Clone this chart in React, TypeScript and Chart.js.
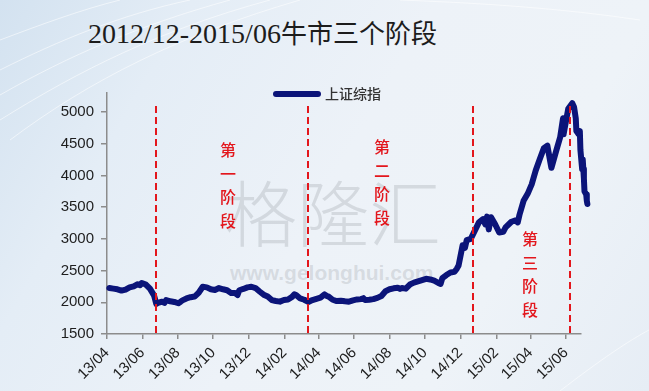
import { useEffect, useRef } from 'react';
import { Chart, registerables } from 'chart.js';

Chart.register(...registerables);

const titleText = '2012/12-2015/06牛市三个阶段';
const seriesName = '上证综指';

const tradeDates = [
  '2013-04-05','2013-04-12','2013-04-19','2013-04-26','2013-05-03','2013-05-10','2013-05-17','2013-05-24','2013-05-28','2013-05-31',
  '2013-06-07','2013-06-14','2013-06-21','2013-06-25','2013-06-28','2013-07-05','2013-07-09','2013-07-12','2013-07-19','2013-07-26',
  '2013-08-02','2013-08-06','2013-08-09','2013-08-16','2013-08-23','2013-08-30','2013-09-06','2013-09-13','2013-09-20','2013-09-27',
  '2013-10-04','2013-10-11','2013-10-18','2013-10-25','2013-11-01','2013-11-08','2013-11-12','2013-11-15','2013-11-22','2013-11-29',
  '2013-12-06','2013-12-13','2013-12-20','2013-12-27','2014-01-03','2014-01-10','2014-01-17','2014-01-24','2014-01-31',
  '2014-02-07','2014-02-14','2014-02-18','2014-02-21','2014-02-28','2014-03-07','2014-03-14','2014-03-21','2014-03-28','2014-04-04',
  '2014-04-11','2014-04-15','2014-04-18','2014-04-25','2014-05-02','2014-05-09','2014-05-16','2014-05-23','2014-05-30','2014-06-06',
  '2014-06-13','2014-06-17','2014-06-20','2014-06-27','2014-07-04','2014-07-11','2014-07-18','2014-07-25','2014-08-01','2014-08-08',
  '2014-08-15','2014-08-19','2014-08-22','2014-08-29','2014-09-05','2014-09-12','2014-09-19','2014-09-26','2014-10-03','2014-10-10',
  '2014-10-17','2014-10-24','2014-10-28','2014-10-31','2014-11-07','2014-11-14','2014-11-21','2014-11-25','2014-11-28','2014-12-05','2014-12-09',
  '2014-12-12','2014-12-19','2014-12-26','2015-01-02','2015-01-09','2015-01-13','2015-01-16','2015-01-19','2015-01-23','2015-01-30',
  '2015-02-06','2015-02-13','2015-02-17','2015-02-27','2015-03-06','2015-03-10','2015-03-13','2015-03-20','2015-03-27','2015-04-03',
  '2015-04-10','2015-04-17','2015-04-24','2015-04-30','2015-05-07','2015-05-15','2015-05-22','2015-05-27','2015-05-28',
  '2015-06-01','2015-06-05','2015-06-12','2015-06-15','2015-06-18','2015-06-19','2015-06-23','2015-06-25','2015-06-26',
  '2015-06-29','2015-06-30','2015-07-01','2015-07-02','2015-07-03','2015-07-06','2015-07-07','2015-07-08',
];

const closes = [
  2225, 2215, 2205, 2185, 2200, 2235, 2250, 2285, 2270, 2305,
  2280, 2215, 2110, 1975, 1990, 2010, 1990, 2035, 2015, 2005,
  1985, 2010, 2030, 2060, 2080, 2090, 2150, 2245, 2235, 2205,
  2195, 2225, 2205, 2190, 2145, 2145, 2115, 2190, 2210, 2235,
  2245, 2225, 2170, 2120, 2090, 2035, 2020, 2010, 2035,
  2045, 2085, 2125, 2115, 2060, 2040, 2005, 2035, 2055, 2075,
  2125, 2100, 2090, 2040, 2020, 2025, 2015, 2010, 2030, 2045,
  2050, 2065, 2035, 2040, 2050, 2070, 2100, 2175, 2205, 2220,
  2230, 2210, 2225, 2215, 2280, 2310, 2330, 2350, 2370, 2360,
  2340, 2305, 2290, 2380, 2430, 2470, 2480, 2530, 2580, 2900, 2860,
  2980, 3000, 3130, 3260, 3310, 3230, 3350, 3150, 3340, 3230,
  3100, 3110, 3180, 3270, 3290, 3260, 3380, 3600, 3710, 3860,
  4080, 4260, 4430, 4470, 4120, 4380, 4600, 4900, 4650,
  4850, 5050, 5140, 5080, 4900, 4700, 4650, 4700, 4400,
  4100, 4250, 4100, 3950, 3750, 3700, 3600, 3550,
];

const tickDates = [
  '2013-04-01','2013-06-01','2013-08-01','2013-10-01','2013-12-01','2014-02-01','2014-04-01',
  '2014-06-01','2014-08-01','2014-10-01','2014-12-01','2015-02-01','2015-04-01','2015-06-01',
];
const tickLabels = ['13/04','13/06','13/08','13/10','13/12','14/02','14/04','14/06','14/08','14/10','14/12','15/02','15/04','15/06'];
const yTicks = [1500, 2000, 2500, 3000, 3500, 4000, 4500, 5000];
const yMin = 1500;
const yMax = 5300;
const axisStart = '2013-04-01';
const axisEnd = '2015-06-27';

const phaseDates = ['2013-06-25', '2014-03-13', '2014-12-22', '2015-06-08'];
const phaseLabels = ['第一阶段', '第二阶段', '第三阶段'];

function dayIndex(s: string): number {
  const [y, m, d] = s.split('-').map(Number);
  const [y0, m0, d0] = axisStart.split('-').map(Number);
  return (Date.UTC(y, m - 1, d) - Date.UTC(y0, m0 - 1, d0)) / 86400000;
}

const LINE_COLOR = '#0b1479';
const AXIS_COLOR = '#8c8c8c';

const overlayPlugin = {
  id: 'overlay',
  afterDatasetsDraw(chart: any) {
    const { ctx, scales } = chart;
    const x = scales.x;
    ctx.save();
    // phase boundary lines
    ctx.strokeStyle = '#e3161c';
    ctx.lineWidth = 2;
    ctx.setLineDash([7, 4]);
    phaseDates.forEach((d) => {
      const px = Math.round(x.getPixelForValue(dayIndex(d)));
      ctx.beginPath();
      ctx.moveTo(px, 106);
      ctx.lineTo(px, 337);
      ctx.stroke();
    });
    ctx.setLineDash([]);

    // phase labels (vertical)
    const labelPos = [
      { x: 228, y: 150 },
      { x: 382, y: 147 },
      { x: 530, y: 239 },
    ];
    ctx.fillStyle = '#e3161c';
    ctx.font = '500 16px "Noto Sans CJK SC", sans-serif';
    ctx.textAlign = 'center';
    ctx.textBaseline = 'middle';
    phaseLabels.forEach((lab, i) => {
      Array.from(lab).forEach((ch, j) => {
        ctx.fillText(ch, labelPos[i].x, labelPos[i].y + j * 23.5);
      });
    });

    // legend
    ctx.strokeStyle = LINE_COLOR;
    ctx.lineWidth = 6;
    ctx.lineCap = 'round';
    ctx.beginPath();
    ctx.moveTo(276, 94);
    ctx.lineTo(318, 94);
    ctx.stroke();
    ctx.fillStyle = '#333';
    ctx.font = '500 14px "Noto Sans CJK SC", sans-serif';
    ctx.textAlign = 'left';
    ctx.fillText(seriesName, 325, 94);
    ctx.restore();
  },
};

export default function App() {
  const canvasRef = useRef<HTMLCanvasElement | null>(null);

  useEffect(() => {
    if (!canvasRef.current) return;
    const points = tradeDates.map((d, i) => ({ x: dayIndex(d), y: closes[i] }));
    const chart = new Chart(canvasRef.current, {
      type: 'line',
      data: {
        datasets: [
          {
            label: seriesName,
            data: points,
            borderColor: LINE_COLOR,
            borderWidth: 6,
            pointRadius: 0,
            tension: 0,
            borderJoinStyle: 'round',
            borderCapStyle: 'round',
            clip: false,
          } as any,
        ],
      },
      options: {
        animation: false,
        responsive: false,
        devicePixelRatio: 1,
        layout: { padding: { left: 0, top: 93, right: 68, bottom: 0 } },
        plugins: {
          legend: { display: false },
          tooltip: { enabled: false },
          title: { display: false },
        },
        scales: {
          x: {
            type: 'linear',
            bounds: 'data',
            afterDataLimits: (scale: any) => {
              scale.min = 0;
              scale.max = dayIndex(axisEnd);
            },
            afterBuildTicks: (scale: any) => {
              scale.min = 0;
              scale.max = dayIndex(axisEnd);
              scale.ticks = tickDates.map((d) => ({ value: dayIndex(d) }));
            },
            afterFit: (scale: any) => {
              scale.height = 57;
            },
            grid: { display: true, drawOnChartArea: false, drawTicks: true, tickLength: 5, color: AXIS_COLOR, lineWidth: 1.5 },
            border: { display: true, color: AXIS_COLOR, width: 1.5 },
            ticks: {
              autoSkip: false,
              maxRotation: 45,
              minRotation: 45,
              padding: 5,
              color: '#1e1e1e',
              font: { family: '"Liberation Sans", Arial, sans-serif', size: 15 },
              callback: (_v: any, i: number) => tickLabels[i],
            },
          } as any,
          y: {
            type: 'linear',
            min: yMin,
            max: yMax,
            afterBuildTicks: (scale: any) => {
              scale.ticks = yTicks.map((v) => ({ value: v }));
            },
            afterFit: (scale: any) => {
              scale.width = 107;
            },
            grid: { display: true, drawOnChartArea: false, drawTicks: true, tickLength: 6, color: AXIS_COLOR, lineWidth: 1.5 },
            border: { display: true, color: AXIS_COLOR, width: 1.5 },
            ticks: {
              padding: 7,
              color: '#1e1e1e',
              font: { family: '"Liberation Sans", Arial, sans-serif', size: 15 },
              callback: (v: any) => String(v),
            },
          },
        },
      },
      plugins: [overlayPlugin],
    });
    return () => chart.destroy();
  }, []);

  const latin = titleText.slice(0, 15);
  const cjk = titleText.slice(15);

  return (
    <div
      style={{
        position: 'absolute',
        left: 0,
        top: 0,
        width: 649,
        height: 391,
        overflow: 'hidden',
        background: 'linear-gradient(120deg, #d3e2f0 0%, #e4edf6 22%, #edf2f8 50%, #eef3f8 75%, #e6edf5 100%)',
      }}
    >
      <svg width={649} height={391} style={{ position: 'absolute', left: 0, top: 0 }}>
        <g fill="none" stroke="#ffffff" strokeOpacity={0.55} strokeWidth={1}>
          <path d="M0 70 C 60 40, 120 15, 190 0" />
          <path d="M0 95 C 70 55, 140 25, 230 0" />
          <path d="M0 120 C 80 70, 160 30, 270 0" />
          <path d="M10 140 C 90 80, 180 35, 300 0" />
          <path d="M0 40 C 40 25, 80 10, 120 0" />
          <path d="M640 20 C 560 8, 480 3, 400 0" />
          <path d="M560 391 C 600 360, 630 340, 649 330" />
        </g>
      </svg>
      <div
        style={{
          position: 'absolute',
          left: 225,
          top: 160,
          fontFamily: '"Noto Sans CJK SC", sans-serif',
          fontWeight: 300,
          fontSize: 72,
          lineHeight: '100px',
          color: 'rgba(160,166,172,0.32)',
          whiteSpace: 'nowrap',
        }}
      >
        格隆汇
      </div>
      <div
        style={{
          position: 'absolute',
          left: 230,
          top: 260,
          fontFamily: '"Liberation Sans", Arial, sans-serif',
          fontWeight: 700,
          fontSize: 21,
          lineHeight: '26px',
          color: 'rgba(165,170,176,0.32)',
          whiteSpace: 'nowrap',
        }}
      >
        www.gelonghui.com
      </div>
      <div
        style={{
          position: 'absolute',
          left: 88,
          top: 15,
          whiteSpace: 'nowrap',
          color: '#1c1c1c',
          lineHeight: '34px',
        }}
      >
        <span style={{ fontFamily: '"Liberation Serif", "Times New Roman", serif', fontSize: 28 }}>{latin}</span>
        <span style={{ fontFamily: '"Noto Sans CJK SC", sans-serif', fontSize: 26, fontWeight: 400 }}>{cjk}</span>
      </div>
      <canvas
        ref={canvasRef}
        width={649}
        height={391}
        style={{ position: 'absolute', left: 0, top: 0, width: 649, height: 391 }}
      />
    </div>
  );
}
